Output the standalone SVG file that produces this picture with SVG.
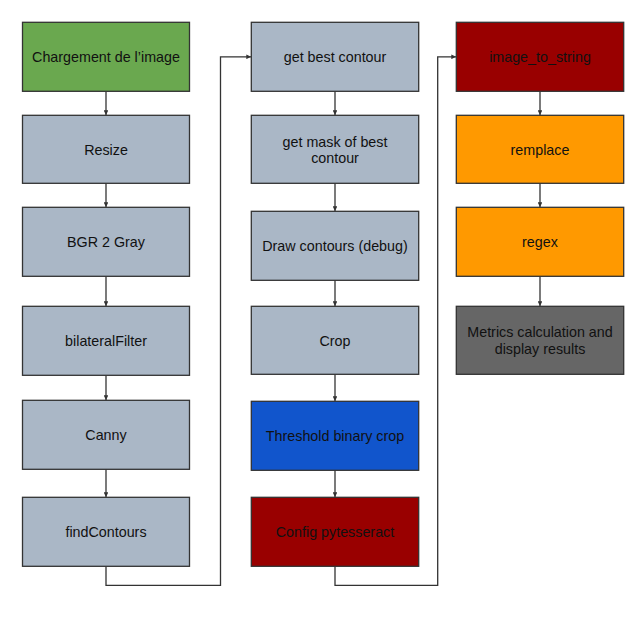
<svg xmlns="http://www.w3.org/2000/svg" width="644" height="621" viewBox="0 0 644 621">
<style>
.b{stroke:#333333;stroke-width:1.3}
.t{font-family:"Liberation Sans",Arial,sans-serif;font-size:14.3px;fill:#111111;text-anchor:middle}
.c{fill:none;stroke:#333333;stroke-width:1.3}
.g{fill:#6aa84f}.s{fill:#aab7c6}.bl{fill:#1155cc}.r{fill:#990000}.o{fill:#ff9900}.d{fill:#666666}
</style>
<defs>
<marker id="a" viewBox="0 0 8 8" refX="8" refY="4" markerWidth="3.6" markerHeight="3.6" orient="auto" markerUnits="strokeWidth">
<path d="M0,0 L8,4 L0,8 z" fill="#333333"/>
</marker>
</defs>
<rect width="644" height="621" fill="#ffffff"/>
<g id="connectors">
<path class="c" d="M106,91.3 V115" marker-end="url(#a)"/>
<path class="c" d="M106,183.3 V207" marker-end="url(#a)"/>
<path class="c" d="M106,276.3 V306" marker-end="url(#a)"/>
<path class="c" d="M106,375.3 V400" marker-end="url(#a)"/>
<path class="c" d="M106,469.3 V497" marker-end="url(#a)"/>
<path class="c" d="M106,566.3 V585.3 H220.5 V56.8 H251" marker-end="url(#a)"/>
<path class="c" d="M335,91.3 V115" marker-end="url(#a)"/>
<path class="c" d="M335,183.3 V211" marker-end="url(#a)"/>
<path class="c" d="M335,280.3 V306" marker-end="url(#a)"/>
<path class="c" d="M335,374.3 V401" marker-end="url(#a)"/>
<path class="c" d="M335,470.3 V497" marker-end="url(#a)"/>
<path class="c" d="M335,566.3 V585.3 H437.7 V56.8 H456" marker-end="url(#a)"/>
<path class="c" d="M540,91.3 V115" marker-end="url(#a)"/>
<path class="c" d="M540,183.3 V207" marker-end="url(#a)"/>
<path class="c" d="M540,276.3 V306" marker-end="url(#a)"/>
</g>
<g id="n1"><rect class="b g" x="22.5" y="22.3" width="167" height="69"/><text class="t" x="106" y="62">Chargement de l’image</text></g>
<g id="n2"><rect class="b s" x="22.5" y="115.3" width="167" height="68"/><text class="t" x="106" y="154.5">Resize</text></g>
<g id="n3"><rect class="b s" x="22.5" y="207.3" width="167" height="69"/><text class="t" x="106" y="247">BGR 2 Gray</text></g>
<g id="n4"><rect class="b s" x="22.5" y="306.3" width="167" height="69"/><text class="t" x="106" y="346">bilateralFilter</text></g>
<g id="n5"><rect class="b s" x="22.5" y="400.3" width="167" height="69"/><text class="t" x="106" y="440">Canny</text></g>
<g id="n6"><rect class="b s" x="22.5" y="497.3" width="167" height="69"/><text class="t" x="106" y="537">findContours</text></g>
<g id="n7"><rect class="b s" x="251.3" y="22.3" width="167.4" height="69"/><text class="t" x="335" y="62">get best contour</text></g>
<g id="n8"><rect class="b s" x="251.3" y="115.3" width="167.4" height="68"/><text class="t" x="335" y="146.5">get mask of best</text><text class="t" x="335" y="163">contour</text></g>
<g id="n9"><rect class="b s" x="251.3" y="211.3" width="167.4" height="69"/><text class="t" x="335" y="251">Draw contours (debug)</text></g>
<g id="n10"><rect class="b s" x="251.3" y="306.3" width="167.4" height="68"/><text class="t" x="335" y="345.5">Crop</text></g>
<g id="n11"><rect class="b bl" x="251.3" y="401.3" width="167.4" height="69"/><text class="t" x="335" y="441">Threshold binary crop</text></g>
<g id="n12"><rect class="b r" x="251.3" y="497.3" width="167.4" height="69"/><text class="t" x="335" y="537">Config pytesseract</text></g>
<g id="n13"><rect class="b r" x="456.3" y="22.3" width="167.4" height="69"/><text class="t" x="540" y="62">image_to_string</text></g>
<g id="n14"><rect class="b o" x="456.3" y="115.3" width="167.4" height="68"/><text class="t" x="540" y="154.5">remplace</text></g>
<g id="n15"><rect class="b o" x="456.3" y="207.3" width="167.4" height="69"/><text class="t" x="540" y="247">regex</text></g>
<g id="n16"><rect class="b d" x="456.3" y="306.3" width="167.4" height="68"/><text class="t" x="540" y="337">Metrics calculation and</text><text class="t" x="540" y="353.6">display results</text></g>
</svg>
